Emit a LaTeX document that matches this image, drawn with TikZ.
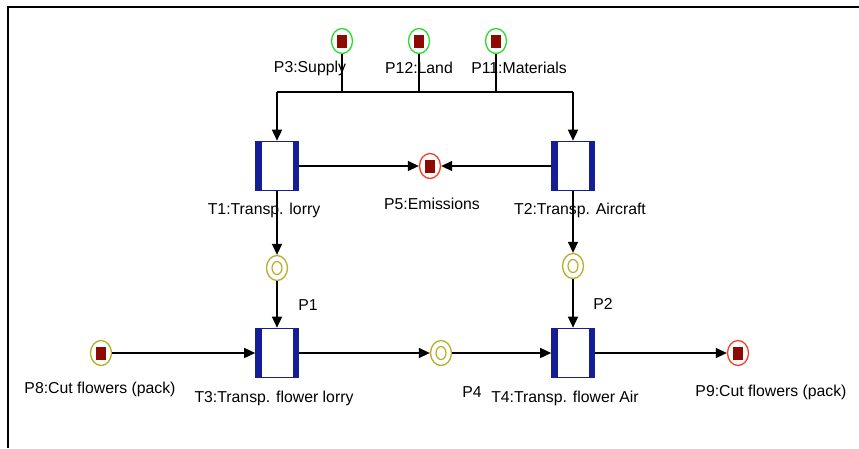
\documentclass[tikz,border=0pt]{standalone}
\usepackage{fontspec}
\setmainfont{Liberation Sans}
\usetikzlibrary{shapes.geometric,arrows.meta}
\definecolor{tblue}{RGB}{20,30,150}
\definecolor{tokred}{RGB}{140,10,0}
\definecolor{pgreen}{RGB}{40,220,40}
\definecolor{pred}{RGB}{250,60,40}
\definecolor{polive}{RGB}{180,175,40}
\tikzset{
  place/.style={ellipse, draw=#1, line width=1.3pt, minimum width=21pt, minimum height=25pt, inner sep=0pt},
  tok/.style={path picture={\fill[tokred] ([xshift=-5pt,yshift=-6.5pt]path picture bounding box.center) rectangle ([xshift=5pt,yshift=6.5pt]path picture bounding box.center);}},
  dbl/.style={path picture={\draw[polive,line width=1.2pt] (path picture bounding box.center) ellipse [x radius=5pt,y radius=6.5pt];}},
  trans/.style={rectangle, draw=tblue, line width=1.6pt, minimum width=42pt, minimum height=49pt, inner sep=0pt,
    path picture={\fill[tblue] (path picture bounding box.north west) rectangle ([xshift=5.5pt]path picture bounding box.south west);
      \fill[tblue] (path picture bounding box.north east) rectangle ([xshift=-5.5pt]path picture bounding box.south east);}},
  lbl/.style={inner sep=0pt, font=\fontsize{15.8pt}{18pt}\selectfont},
  arc/.style={draw=black, line width=1.4pt, -{Triangle[length=11pt,width=10pt]}},
  ln/.style={draw=black, line width=1.4pt}
}
\begin{document}
\begin{tikzpicture}[x=1pt,y=-1pt]
\fill[white] (0,0) rectangle (859,448);
\useasboundingbox (0,0) rectangle (859,448);
\draw[line width=2.5pt] (859,7) -- (7.8,7) -- (7.8,448);

% places
\node[place=pgreen,tok] (P3) at (342,41) {};
\node[place=pgreen,tok] (P12) at (419,41) {};
\node[place=pgreen,tok] (P11) at (496,41) {};
\node[place=pred,tok] (P5) at (430,166) {};
\node[place=polive,dbl] (P1) at (277,268) {};
\node[place=polive,dbl] (P2) at (573,266) {};
\node[place=polive,tok] (P8) at (101,353) {};
\node[place=polive,dbl] (P4) at (441,353) {};
\node[place=pred,tok] (P9) at (738,353) {};

% transitions
\node[trans] (T1) at (277,166) {};
\node[trans] (T2) at (573,166) {};
\node[trans] (T3) at (277,353) {};
\node[trans] (T4) at (573,353) {};

\coordinate (B1) at (277,92);
\coordinate (B2) at (573,92);

% connectors
\draw[ln] (P3.south) -- (P3.south |- B1);
\draw[ln] (P12.south) -- (P12.south |- B1);
\draw[ln] (P11.south) -- (P11.south |- B1);
\draw[ln] (B1) -- (B2);
\draw[arc] (B1) -- (T1.north);
\draw[arc] (B2) -- (T2.north);
\draw[arc] (T1.east) -- (P5.west);
\draw[arc] (T2.west) -- (P5.east);
\draw[arc] (T1.south) -- (P1.north);
\draw[arc] (P1.south) -- (T3.north);
\draw[arc] (T2.south) -- (P2.north);
\draw[arc] (P2.south) -- (T4.north);
\draw[arc] (P8.east) -- (T3.west);
\draw[arc] (T3.east) -- (P4.west);
\draw[arc] (P4.east) -- (T4.west);
\draw[arc] (T4.east) -- (P9.west);

% labels
\node[lbl] (lP3) at (310,68) {P3:Supply};
\node[lbl] (lP12) at (419,68) {P12:Land};
\node[lbl] (lP11) at (519,68) {P11:Materials};
\node[lbl] (lT1) at (264,210) {T1:Transp. lorry};
\node[lbl] (lP5) at (432,204) {P5:Emissions};
\node[lbl] (lT2) at (580,210) {T2:Transp. Aircraft};
\node[lbl] (lP1) at (308,305) {P1};
\node[lbl] (lP2) at (603,304) {P2};
\node[lbl] (lP8) at (100,389) {P8:Cut flowers (pack)};
\node[lbl] (lT3) at (274,398) {T3:Transp. flower lorry};
\node[lbl] (lP4) at (472,392) {P4};
\node[lbl] (lT4) at (565,398) {T4:Transp. flower Air};
\node[lbl] (lP9) at (771,392) {P9:Cut flowers (pack)};
\end{tikzpicture}
\end{document}
